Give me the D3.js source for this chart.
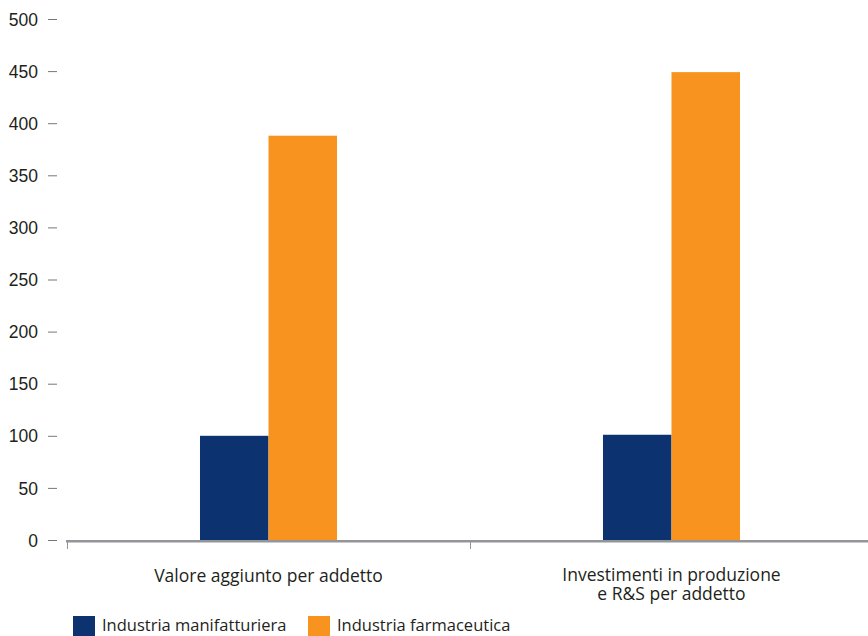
<!DOCTYPE html>
<html>
<head>
<meta charset="utf-8">
<script src="https://cdn.jsdelivr.net/npm/d3@7"></script>
<style>
  body { margin: 0; background: #fff; }
  svg { display: block; font-family: "Open Sans", "Noto Sans", sans-serif; }
</style>
</head>
<body>
<svg id="chart"></svg>
<script>
const categories = ["Valore aggiunto per addetto", "Investimenti in produzione\ne R&S per addetto"];
const seriesNames = ["Industria manifatturiera", "Industria farmaceutica"];
const manifatturiera = [100, 101];
const farmaceutica = [388, 449];
const yTicks = [0, 50, 100, 150, 200, 250, 300, 350, 400, 450, 500];
const colors = ["#0c336f", "#f7931e"];

const W = 868, H = 636;
const svg = d3.select("#chart").attr("width", W).attr("height", H);

const x = d3.scaleBand().domain(categories).range([67, 873]).padding(0);
const y = d3.scaleLinear().domain([0, 500]).range([540, 19]);

const barW = x.bandwidth() * 0.17;

// Barre
const rows = categories.map((c, i) => ({ c, vals: [manifatturiera[i], farmaceutica[i]] }));
rows.forEach((r) => {
  const cx = x(r.c) + x.bandwidth() / 2;
  r.vals.forEach((v, j) => {
    svg.append("rect")
      .attr("x", cx - barW + j * barW)
      .attr("y", y(v))
      .attr("width", barW)
      .attr("height", y(0) - y(v))
      .attr("fill", colors[j]);
  });
});

// Asse Y
const yAxis = svg.append("g")
  .attr("transform", "translate(57,0)")
  .call(d3.axisLeft(y).tickValues(yTicks).tickSize(9).tickPadding(10));
yAxis.select(".domain").remove();
yAxis.selectAll(".tick line").attr("stroke", "#777").attr("stroke-width", 1);
yAxis.selectAll(".tick text")
  .attr("fill", "#231f20")
  .style("font-size", "17.5px")
  .attr("dy", "0.35em");

// Asse X
svg.append("line")
  .attr("x1", 66).attr("x2", W)
  .attr("y1", y(0) + 1.2).attr("y2", y(0) + 1.2)
  .attr("stroke", "#939598").attr("stroke-width", 2.5);
[x(categories[0]), x(categories[1])].forEach((px) => {
  svg.append("line")
    .attr("x1", px + 0.5).attr("x2", px + 0.5)
    .attr("y1", y(0) + 2).attr("y2", y(0) + 9)
    .attr("stroke", "#939598").attr("stroke-width", 1);
});

categories.forEach((c, i) => {
  const lines = c.split("\n");
  const cx = x(c) + x.bandwidth() / 2;
  const y0 = lines.length > 1 ? 581 : 582;
  lines.forEach((l, k) => {
    svg.append("text")
      .attr("text-anchor", "middle")
      .attr("fill", "#231f20")
      .style("font-size", "17.5px")
      .attr("x", cx).attr("y", y0 + k * 19)
      .text(l);
  });
});

// Legenda
const legendX = [73, 308];
seriesNames.forEach((s, i) => {
  svg.append("rect")
    .attr("x", legendX[i]).attr("y", 616)
    .attr("width", 22).attr("height", 20)
    .attr("fill", colors[i]);
  svg.append("text")
    .attr("x", legendX[i] + 29).attr("y", 631)
    .attr("fill", "#231f20")
    .style("font-size", "16.5px")
    .text(s);
});
</script>
</body>
</html>
